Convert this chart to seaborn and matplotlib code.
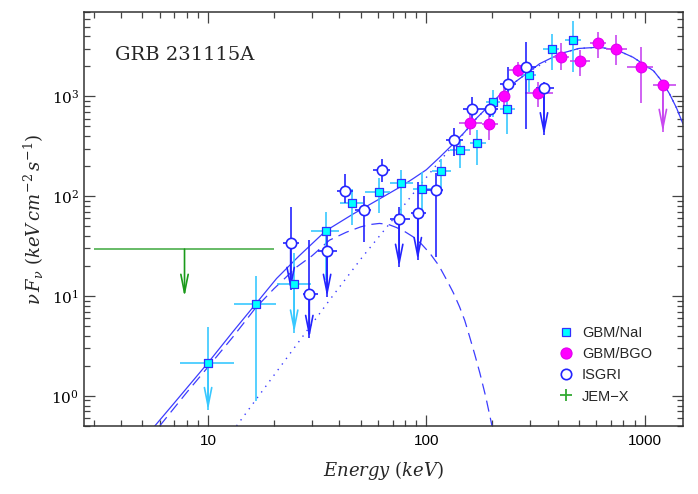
"""
GRB 231115A - espectro nuFnu (GBM/NaI, GBM/BGO, ISGRI, JEM-X)
Genera out.png
"""
import matplotlib.pyplot as plt
from matplotlib.lines import Line2D
import seaborn as sns

# Colores
CURVA = "#3c3cff"
NAI_CARA = "#00ffff"
NAI_BORDE = "#3030ff"
NAI_ERR = "#38c8ff"
BGO_CARA = "#ff00ff"
BGO_ERR = "#c848f0"
ISG = "#2424ff"
JEM_LINEA = "#66bb66"
JEM_FLECHA = "#1a9a1a"

sns.set_theme(style="ticks")
plt.rcParams.update({
    "font.family": ["Liberation Sans", "DejaVu Sans"],
    "mathtext.fontset": "dejavuserif",
    "axes.edgecolor": "#333333",
    "axes.linewidth": 1.1,
    "xtick.color": "#444444", "ytick.color": "#444444",
    "xtick.labelcolor": "black", "ytick.labelcolor": "black",
})

# ----------------------------------------------------------------------
# Datos (E en keV, nuFnu en keV cm-2 s-1)
# ----------------------------------------------------------------------
nai_e = [10, 16.5, 24.8, 34.6, 45.5, 60.7, 76.9, 95.7, 117, 142, 170, 202, 235, 296, 375, 470]
nai_f = [2.15, 8.3, 13.1, 45, 86, 109, 136, 118, 178, 288, 341, 877, 753, 1650, 3000, 3690]
nai_elo = [7.4, 13.2, 20.6, 29.6, 40.2, 52.2, 68, 87, 106, 129, 158, 188, 217, 272, 342, 430]
nai_ehi = [13.2, 20.5, 29.5, 39.7, 51.2, 68.5, 87, 105.6, 130, 158, 188, 217, 256, 319, 406, 513]
nai_flo = [0.72, 0.88, 4.3, 14.5, 51, 68, 62, 65, 106, 192, 205, 621, 424, 1100, 1820, 1750]
nai_fhi = [4.9, 15.8, 27, 70, 119, 151, 182, 174, 238, 378, 457, 1148, 985, 2000, 4240, 5750]
nai_flecha = [1, 0, 1, 0, 0, 0, 0, 0, 0, 0, 0, 0, 0, 0, 0, 0]

bgo_e = [158, 193, 226, 263, 325, 415, 505, 611, 742, 959, 1213]
bgo_f = [541, 525, 1007, 1849, 1079, 2473, 2256, 3414, 3000, 1963, 1288]
bgo_elo = [141, 179, 213, 239, 283, 380, 455, 560, 667, 835, 1090]
bgo_ehi = [179, 213, 240, 297, 380, 452, 560, 667, 835, 1090, 1390]
bgo_flo = [407, 363, 800, 1550, 780, 1820, 1585, 2400, 2042, 850, 440]
bgo_fhi = [697, 741, 1250, 2200, 1400, 3420, 2884, 4365, 4074, 3110, 1450]
bgo_flecha = [0, 0, 0, 0, 0, 0, 0, 0, 0, 0, 1]

isg_e = [23.9, 29.1, 35.1, 42.5, 51.6, 62.5, 75.1, 91.4, 110.5, 134, 162, 195, 237, 287, 346]
isg_f = [33.7, 10.6, 28.4, 113, 73.6, 182, 58.5, 68.7, 115, 369, 753, 753, 1340, 1963, 1222]
isg_elo = [22, 27.3, 31.9, 38.8, 47, 57, 68.5, 85, 101, 123, 147, 179, 217, 263, 319]
isg_ehi = [26.2, 31.9, 38.8, 46.2, 56, 68.5, 84, 100, 119, 147, 179, 213, 258, 319, 386]
isg_flo = [11.5, 3.8, 9.8, 85, 35, 138, 19.6, 22.9, 24.7, 250, 575, 620, 955, 475, 407]
isg_fhi = [78, 36.8, 40, 166, 100, 238, 78, 138, 170, 486, 985, 912, 1963, 3527, 1400]
isg_flecha = [1, 1, 1, 0, 0, 0, 1, 1, 0, 0, 0, 0, 0, 0, 1]

# JEM-X: limite superior
jem_e = [7.8]
jem_elo = [3.0]
jem_ehi = [20.1]
jem_f = [29.5]
jem_punta = [9.8]

# Modelo: total (solida), componente de corte (guiones), Band (puntos)
tot_e = [5.7, 7, 10, 13, 16.5, 20.6, 26, 34.6, 46, 60, 76, 87, 100, 115, 133, 150, 164, 200,
         233, 300, 330, 409, 500, 620, 750, 884, 1000, 1100, 1200, 1300, 1400, 1500]
tot_f = [0.5, 0.85, 2.15, 4.4, 8.3, 15, 25, 45, 66, 92, 124, 150, 184, 245, 335, 440, 560, 865,
         1200, 1810, 2120, 2670, 3020, 3110, 2900, 2470, 2070, 1800, 1420, 1064, 768, 530]
cut_e = [6.0, 8, 10, 13, 16.5, 20, 25.5, 30, 36, 43, 50, 55, 61, 67, 73, 80, 87, 95, 104,
         114, 124, 133, 142, 150, 158, 167, 176, 187, 200]
cut_f = [0.5, 1.09, 1.95, 3.9, 7.6, 11.8, 19.6, 25.4, 36.3, 43.6, 49.3, 52, 53.4, 52.2, 48.6,
         44, 39.2, 33.2, 26.7, 20.3, 14.5, 10.8, 7.8, 5.7, 3.9, 2.57, 1.69, 0.99, 0.5]
band_e = [13.5, 17, 20, 26.4, 36, 51, 68, 87, 111, 133, 150, 164, 200, 233, 300, 409, 500, 620,
          750, 884, 1000, 1100, 1200, 1300, 1400, 1500]
band_f = [0.5, 0.99, 1.6, 3.63, 9.1, 24.7, 53.4, 106, 204, 325, 434, 556, 864, 1200, 1810, 2670,
          3020, 3110, 2900, 2470, 2070, 1800, 1420, 1064, 768, 530]

x_ticks = [10, 100, 1000]
x_labels = ["10", "100", "1000"]
y_ticks = [1, 10, 100, 1000]
y_labels = [r"$10^0$", r"$10^1$", r"$10^2$", r"$10^3$"]

# ----------------------------------------------------------------------
fig = plt.figure(figsize=(6.98, 4.94), dpi=100)
ax = fig.add_axes([0.1203, 0.1377, 0.8582, 0.838])
ax.set_xscale("log"); ax.set_yscale("log")
ax.set_xlim(2.7, 1500); ax.set_ylim(0.5, 7000)

sns.lineplot(x=tot_e, y=tot_f, ax=ax, color=CURVA, lw=0.9, sort=False)
sns.lineplot(x=cut_e, y=cut_f, ax=ax, color=CURVA, lw=0.9, sort=False,
             linestyle=(0, (9, 5)))
sns.lineplot(x=band_e, y=band_f, ax=ax, color=CURVA, lw=1.0, sort=False,
             linestyle=(0, (1, 4)))


def errores(e, f, elo, ehi, flo, fhi, flecha, color, z):
    xe = [[v - a for v, a in zip(e, elo)], [b - v for v, b in zip(e, ehi)]]
    ye = [[v - a for v, a in zip(f, flo)], [b - v for v, b in zip(f, fhi)]]
    ax.errorbar(e, f, xerr=xe, yerr=ye, fmt="none", ecolor=color, elinewidth=1.2,
                capsize=0, zorder=z)
    for v, y, lo, fl in zip(e, f, flo, flecha):
        if fl:
            ax.annotate("", xy=(v, lo), xytext=(v, y), zorder=z,
                        arrowprops=dict(arrowstyle="->,head_length=1.1,head_width=0.22",
                                        color=color, lw=1.2, shrinkA=0, shrinkB=0))


errores(nai_e, nai_f, nai_elo, nai_ehi, nai_flo, nai_fhi, nai_flecha, NAI_ERR, 3)
errores(bgo_e, bgo_f, bgo_elo, bgo_ehi, bgo_flo, bgo_fhi, bgo_flecha, BGO_ERR, 3)
errores(isg_e, isg_f, isg_elo, isg_ehi, isg_flo, isg_fhi, isg_flecha, ISG, 3)

sns.scatterplot(x=nai_e, y=nai_f, ax=ax, marker="s", s=38, color=NAI_CARA,
                edgecolor=NAI_BORDE, linewidth=0.9, zorder=4)
sns.scatterplot(x=bgo_e, y=bgo_f, ax=ax, marker="o", s=60, color=BGO_CARA,
                edgecolor="#e000f0", linewidth=0.8, zorder=4)
sns.scatterplot(x=isg_e, y=isg_f, ax=ax, marker="o", s=55, color="white",
                edgecolor=ISG, linewidth=1.2, zorder=5)

# JEM-X
ax.errorbar(jem_e, jem_f, xerr=[[v - a for v, a in zip(jem_e, jem_elo)],
                                [b - v for v, b in zip(jem_e, jem_ehi)]],
            fmt="none", ecolor=JEM_LINEA, elinewidth=1.4, capsize=0, zorder=3)
for v, y, p in zip(jem_e, jem_f, jem_punta):
    ax.annotate("", xy=(v, p), xytext=(v, y), zorder=3,
                arrowprops=dict(arrowstyle="->,head_length=1.1,head_width=0.22",
                                color=JEM_FLECHA, lw=1.2, shrinkA=0, shrinkB=0))

# Ejes
ax.set_xticks(x_ticks, x_labels, fontsize=11)
ax.set_yticks(y_ticks, y_labels, fontsize=11)
ax.tick_params(which="both", direction="in", top=True, right=True, width=0.9)
ax.tick_params(which="major", length=8)
ax.tick_params(which="minor", length=4)
ax.tick_params(axis="x", which="major", pad=6)
ax.set_xlabel(r"$Energy\ (keV)$", fontsize=13, labelpad=8)
ax.set_ylabel(r"$\nu\,F_\nu\ (keV\,cm^{-2}\,s^{-1})$", fontsize=13, labelpad=4)
ax.text(0.052, 0.896, "GRB 231115A", transform=ax.transAxes, ha="left", va="center",
        fontsize=14, family="DejaVu Serif")

handles = [
    Line2D([], [], ls="", marker="s", ms=6, mfc=NAI_CARA, mec=NAI_BORDE, mew=0.9),
    Line2D([], [], ls="", marker="o", ms=8, mfc=BGO_CARA, mec="#e000f0", mew=0.8),
    Line2D([], [], ls="", marker="o", ms=7.5, mfc="white", mec=ISG, mew=1.2),
    Line2D([], [], ls="", marker="+", ms=9, mec="#33aa33", mew=1.3),
]
ax.legend(handles, ["GBM/NaI", "GBM/BGO", "ISGRI", "JEM\u2212X"], loc="lower right",
          bbox_to_anchor=(0.958, 0.04), frameon=False, fontsize=10.5,
          handlelength=1.0, handletextpad=0.6, labelspacing=0.5, borderaxespad=0)

fig.savefig("out.png", dpi=100)
